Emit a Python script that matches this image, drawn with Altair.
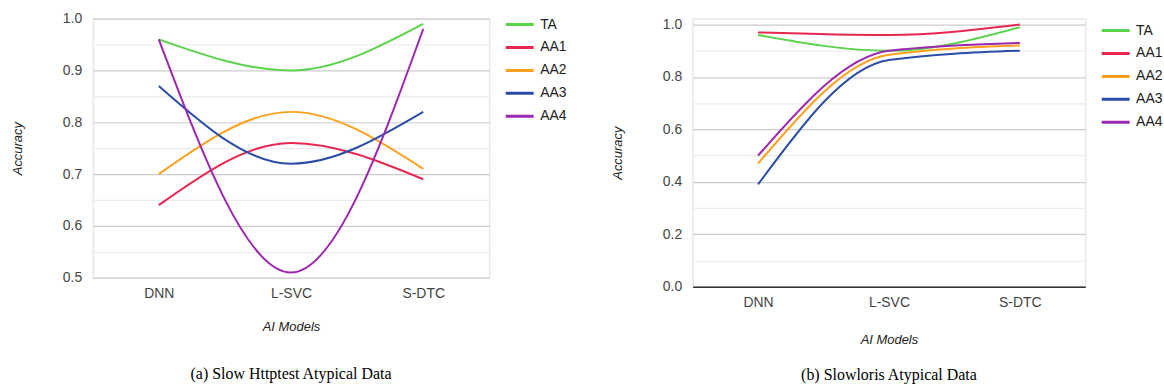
import altair as alt
import pandas as pd

models = ["DNN", "L-SVC", "S-DTC"]
series = ["TA", "AA1", "AA2", "AA3", "AA4"]
colors = ["#5ad24b", "#e8264f", "#ffa01c", "#2a4ea6", "#9c27b0"]

# (a) Slow Httptest Atypical Data
left_vals = {
    "TA": [0.96, 0.90, 0.99],
    "AA1": [0.64, 0.76, 0.69],
    "AA2": [0.70, 0.82, 0.71],
    "AA3": [0.87, 0.72, 0.82],
    "AA4": [0.96, 0.51, 0.98],
}
# (b) Slowloris Atypical Data
right_vals = {
    "TA": [0.96, 0.90, 0.99],
    "AA1": [0.97, 0.96, 1.00],
    "AA2": [0.47, 0.885, 0.92],
    "AA3": [0.39, 0.865, 0.90],
    "AA4": [0.50, 0.90, 0.93],
}

left_ticks = [0.5, 0.55, 0.6, 0.65, 0.7, 0.75, 0.8, 0.85, 0.9, 0.95, 1.0]
right_ticks = [0.0, 0.1, 0.2, 0.3, 0.4, 0.5, 0.6, 0.7, 0.8, 0.9, 1.0]


def to_df(vals):
    rows = []
    for s in series:
        for m, v in zip(models, vals[s]):
            rows.append({"model": m, "series": s, "acc": v})
    return pd.DataFrame(rows)


def panel(vals, ticks, domain, label_mod, width, height, legend_y, caption, cap_offset,
          baseline, x_title_pad):
    df = to_df(vals)
    grid_test = f"round(datum.value*100) % {label_mod} == 0"
    return alt.Chart(df).mark_line(interpolate="monotone", strokeWidth=2).encode(
        x=alt.X("model:N", sort=models, scale=alt.Scale(type="point", padding=0.5),
                axis=alt.Axis(title="AI Models", labelAngle=0, ticks=False, domain=baseline,
                              domainColor="#333", domainWidth=1.5,
                              labelPadding=9, titlePadding=x_title_pad, titleFontStyle="italic",
                              titleFontWeight="normal", titleFontSize=13, titleColor="#222",
                              labelFontSize=14, labelColor="#444", labelFont="Liberation Sans",
                              titleFont="Liberation Sans", grid=False)),
        y=alt.Y("acc:Q", scale=alt.Scale(domain=domain, nice=False, zero=False),
                axis=alt.Axis(title="Accuracy", values=ticks, format=".1f", ticks=False, domain=False,
                              labelExpr=f"{grid_test} ? datum.label : ''",
                              gridColor={"condition": {"test": grid_test, "value": "#cccccc"}, "value": "#ebebeb"},
                              gridWidth=1.2,
                              labelPadding=11, titlePadding=38, titleFontStyle="italic",
                              titleFontWeight="normal", titleFontSize=13, titleColor="#222",
                              labelFontSize=14, labelColor="#444", labelFont="Liberation Sans",
                              titleFont="Liberation Sans")),
        color=alt.Color("series:N", sort=series,
                        scale=alt.Scale(domain=series, range=colors),
                        legend=alt.Legend(title=None, orient="none", legendX=width + 15, legendY=legend_y,
                                          symbolType="stroke", symbolSize=784, symbolStrokeWidth=3,
                                          clipHeight=16, rowPadding=7, labelFontSize=14,
                                          labelColor="#222", labelFont="Liberation Sans", labelOffset=5)),
    ).properties(
        width=width, height=height,
        title=alt.TitleParams(caption, orient="bottom", anchor="middle", frame="group",
                              font="Liberation Serif", fontSize=16, fontWeight="normal",
                              color="#000", offset=cap_offset),
    )


left = panel(left_vals, left_ticks, [0.5, 1.0], 10, 398, 260, -2,
             "(a)  Slow Httptest Atypical Data", 33, False, 20)
right = panel(right_vals, right_ticks, [0.0, 1.0228], 20, 394, 269, 4,
              "(b)  Slowloris Atypical Data", 21, True, 24)

chart = alt.hconcat(left, right, spacing=43).resolve_scale(color="independent").properties(
    padding={"left": 11, "top": 10, "right": 0, "bottom": 0}
).configure_view(stroke=None).configure(background="white")

chart.save("out.html", embed_options={"renderer": "svg", "actions": False})
